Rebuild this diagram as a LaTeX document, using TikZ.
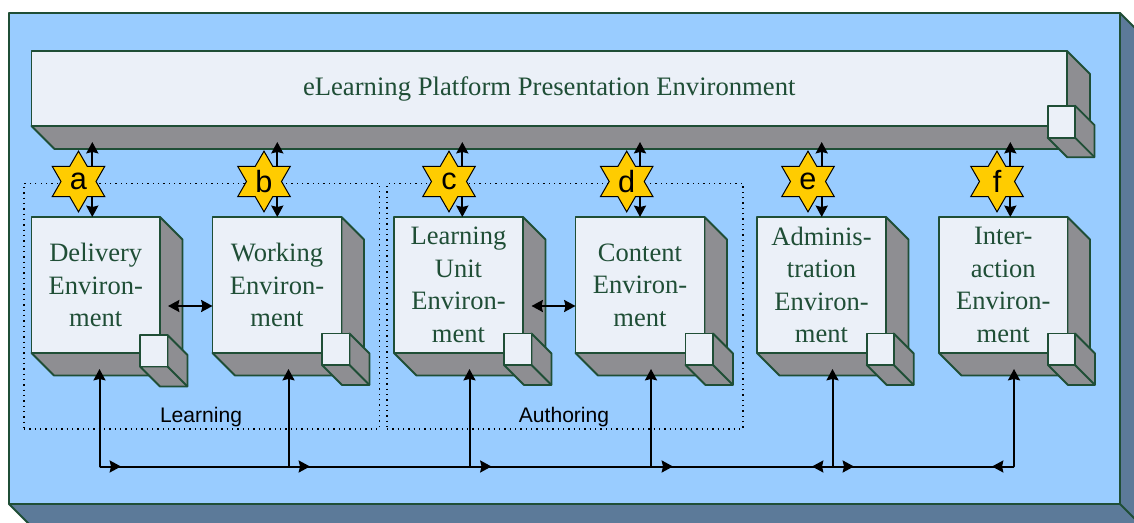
\documentclass[tikz,border=0pt]{standalone}
\usepackage{fontspec}
\setmainfont{Liberation Serif}
\newfontfamily\lsans{Liberation Sans}
\usetikzlibrary{arrows.meta,shapes.geometric}
\definecolor{edgegreen}{HTML}{1F4E36}
\definecolor{facelight}{HTML}{EBF0F8}
\definecolor{depthgrey}{HTML}{8E8E92}
\definecolor{skyblue}{HTML}{99CCFF}
\definecolor{depthblue}{HTML}{5C7A99}
\definecolor{stargold}{HTML}{FFCC00}
\tikzset{
  x=0.75pt,y=-0.75pt,
  face/.style={draw=edgegreen,line width=1.4pt,fill=facelight,text=edgegreen,anchor=north west,inner sep=0pt,outer sep=0pt,align=center,line join=round},
  bigtext/.style={font=\fontsize{19.9}{24.4}\selectfont},
  depth/.style={draw=edgegreen,line width=1.4pt,fill=#1,line join=round},
  depth/.default=depthgrey,
  zone/.style={draw=black,line width=1pt,dash pattern=on 1pt off 3pt},
  link/.style={draw=black,line width=1.5pt,{Stealth[length=8.5pt,width=9pt,inset=1pt]}-{Stealth[length=8.5pt,width=9pt,inset=1pt]}},
  oneway/.style={draw=black,line width=1.5pt,-{Stealth[length=8.5pt,width=9pt,inset=1pt]}},
  wire/.style={draw=black,line width=1.5pt},
  hexstar/.style={star,star points=6,star point ratio=1.732,draw=black,line width=0.75pt,fill=stargold,minimum size=45.5pt,inner sep=0pt,outer sep=0pt,font=\lsans\fontsize{23}{23}\selectfont},
  tag/.style={font=\lsans\fontsize{15.8}{18}\selectfont,text=black,inner sep=0pt}
}
% #1 name, #2 x, #3 y, #4 w, #5 h, #6 depth, #7 depth colour, #8 options, #9 text
\newcommand{\slab}[9]{%
  \filldraw[depth=#7] (#2,#3) ++(#4,0) -- ++(#6,#6) -- ++(0,#5) -- ++(-#4,0) -- ++(-#6,-#6) -- ++(#4,0) -- cycle;
  \draw[edgegreen,line width=1.4pt,line join=round] (#2,#3) ++(#4,#5) -- ++(#6,#6);
  \node[face,minimum width=#4*0.75pt,minimum height=#5*0.75pt,#8] (#1) at (#2,#3) {#9};
}
\begin{document}
\begin{tikzpicture}
\useasboundingbox (0,0) rectangle (1134,523);
\fill[white] (0,0) rectangle (1134,523);
\clip (0,0) rectangle (1134,523);
% outer slab
\slab{outer}{9}{13}{1111}{491}{22}{depthblue}{fill=skyblue}{}
% zones
\node[zone,draw,minimum width=355.5*0.75pt,minimum height=245.5*0.75pt,anchor=north west,inner sep=0pt,outer sep=0pt] (learnzone) at (24,183.5) {};
\node[zone,draw,minimum width=356*0.75pt,minimum height=245.5*0.75pt,anchor=north west,inner sep=0pt,outer sep=0pt] (authzone) at (387,183.5) {};
\node[tag,anchor=base] (learnlabel) at (201,422) {Learning};
\node[tag,anchor=base] (authlabel) at (564,422) {Authoring};
% top slab
\slab{pres}{31.5}{51}{1035.5}{75}{23}{depthgrey}{font=\fontsize{20}{24}\selectfont}{\raisebox{-2.25pt}{eLearning Platform Presentation Environment}}
% boxes
\slab{deliv}{31.5}{217}{128.5}{136}{22.5}{depthgrey}{bigtext}{Delivery\\Environ-\\ment}
\slab{work}{212.5}{217}{129}{136}{22.5}{depthgrey}{bigtext}{Working\\Environ-\\ment}
\slab{lunit}{394}{217}{129}{136}{22.5}{depthgrey}{bigtext}{Learning\\Unit\\Environ-\\ment}
\slab{cont}{575.5}{217}{129}{136}{22.5}{depthgrey}{bigtext}{Content\\Environ-\\ment}
\slab{admin}{757}{217}{129}{136}{22.5}{depthgrey}{bigtext}{Adminis-\\tration\\Environ-\\ment}
\slab{inter}{939}{217}{128.5}{136}{22.5}{depthgrey}{bigtext}{Inter-\\action\\Environ-\\ment}
% small cubes
\slab{cpres}{1047.7}{105.7}{27.3}{32}{19.5}{depthgrey}{}{}
\slab{cdeliv}{140}{335}{27.5}{31.5}{20}{depthgrey}{}{}
\slab{cwork}{322}{333.5}{27.5}{31.5}{20}{depthgrey}{}{}
\slab{clunit}{504}{333.5}{27.5}{31.5}{20}{depthgrey}{}{}
\slab{ccont}{685.5}{333.5}{27.5}{31.5}{20}{depthgrey}{}{}
\slab{cadmin}{866.7}{333.5}{27}{31.5}{20}{depthgrey}{}{}
\slab{cinter}{1048}{333.5}{27}{31.5}{20}{depthgrey}{}{}
% vertical links
\foreach \n/\xx in {a/92.3,b/277.3,c/462.3,d/640,e/821.7,f/1010.3}{
  \coordinate (\n top) at (\xx,142);
  \coordinate (\n bot) at (\xx,217);
  \draw[link] (\n top) -- (\n bot);
}
% stars
\node[hexstar] (a) at (78.5,181.5) {a};
\node[hexstar] (b) at (264,181.5) {b};
\node[hexstar] (c) at (449,181.5) {c};
\node[hexstar] (d) at (626.7,181.5) {d};
\node[hexstar] (e) at (808,181.5) {e};
\node[hexstar] (f) at (997,181.5) {f};
% horizontal links
\coordinate (dw) at (168,306);
\coordinate (dwe) at (212.5,306);
\coordinate (lc) at (531.5,306);
\coordinate (lce) at (575.5,306);
\draw[link] (dw) -- (dwe);
\draw[link] (lc) -- (lce);
% bus
\coordinate (bus1) at (99.5,466.5);
\coordinate (bus2) at (288.5,466.5);
\coordinate (bus3) at (469.5,466.5);
\coordinate (bus4) at (651,466.5);
\coordinate (bus5) at (832.5,466.5);
\coordinate (bus6) at (1014,466.5);
\draw[wire] (bus1) -- (bus6);
\foreach \i/\xx in {1/99.5,2/288.5,3/469.5,4/651,5/832.5,6/1014}{
  \coordinate (up\i) at (\xx,369);
  \draw[oneway,line cap=round] (bus\i) -- (up\i);
}
\coordinate (t1) at (121,466.5);
\coordinate (t2) at (310,466.5);
\coordinate (t3) at (491.5,466.5);
\coordinate (t4) at (673,466.5);
\coordinate (t5) at (812,466.5);
\coordinate (t6) at (854,466.5);
\coordinate (t7) at (992,466.5);
\draw[oneway] (bus1) -- (t1);
\draw[oneway] (bus2) -- (t2);
\draw[oneway] (bus3) -- (t3);
\draw[oneway] (bus4) -- (t4);
\draw[oneway] (bus5) -- (t5);
\draw[oneway] (bus5) -- (t6);
\draw[oneway] (bus6) -- (t7);
\end{tikzpicture}
\end{document}
